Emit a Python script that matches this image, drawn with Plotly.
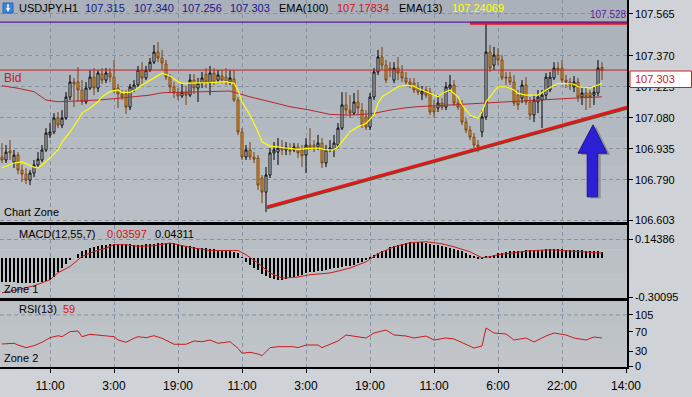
import plotly.graph_objects as go

# ---------------- data ----------------
bar_idx = list(range(151))
opens = [106.897,106.883,106.925,106.873,106.906,106.836,106.817,106.789,106.822,106.860,
 106.883,106.930,107.000,107.014,107.079,107.046,107.079,107.177,107.247,107.247,
 107.210,107.154,107.219,107.270,107.219,107.284,107.256,107.289,107.270,107.219,
 107.191,107.191,107.130,107.210,107.233,107.303,107.266,107.303,107.340,107.387,
 107.359,107.331,107.270,107.224,107.196,107.182,107.200,107.186,107.256,107.219,
 107.242,107.284,107.242,107.289,107.256,107.275,107.270,107.247,107.261,107.163,
 107.014,106.897,106.930,106.897,106.892,106.799,106.733,106.813,106.916,106.920,
 106.944,106.930,106.930,106.930,106.944,106.930,106.906,106.953,106.953,106.944,
 106.962,106.869,106.930,106.930,106.953,107.032,107.140,107.116,107.102,107.154,
 107.116,107.084,107.037,107.177,107.294,107.364,107.326,107.312,107.256,107.312,
 107.294,107.266,107.247,107.242,107.224,107.191,107.210,107.200,107.130,107.126,
 107.149,107.130,107.219,107.233,107.149,107.140,107.060,107.023,106.990,106.953,
 107.014,107.084,107.387,107.326,107.373,107.350,107.270,107.270,107.247,107.186,
 107.172,107.233,107.154,107.093,107.154,107.163,107.186,107.210,107.266,107.312,
 107.312,107.256,107.247,107.224,107.247,107.177,107.196,107.196,107.186,107.196,
 107.315]
highs = [106.962,106.953,106.976,106.930,106.920,106.860,106.846,106.836,106.883,106.920,
 106.953,107.032,107.056,107.102,107.107,107.116,107.200,107.280,107.266,107.317,
 107.256,107.247,107.303,107.312,107.303,107.312,107.312,107.312,107.350,107.238,
 107.210,107.210,107.238,107.256,107.322,107.340,107.322,107.359,107.420,107.434,
 107.397,107.350,107.284,107.247,107.219,107.238,107.228,107.284,107.284,107.266,
 107.294,107.312,107.322,107.312,107.303,107.303,107.312,107.303,107.303,107.177,
 107.032,106.953,106.967,106.920,106.906,106.813,106.850,106.939,106.967,106.986,
 106.976,106.967,106.962,106.962,106.962,106.953,106.986,107.032,106.976,107.000,
 106.986,106.953,106.976,107.000,107.056,107.200,107.200,107.186,107.196,107.210,
 107.149,107.116,107.196,107.312,107.397,107.411,107.350,107.340,107.340,107.364,
 107.326,107.294,107.266,107.266,107.247,107.228,107.228,107.219,107.163,107.186,
 107.172,107.247,107.280,107.256,107.172,107.163,107.079,107.042,107.009,106.976,
 107.116,107.523,107.420,107.411,107.406,107.373,107.294,107.294,107.280,107.210,
 107.256,107.270,107.177,107.186,107.210,107.210,107.289,107.294,107.340,107.340,
 107.350,107.280,107.266,107.275,107.266,107.219,107.219,107.210,107.228,107.350,
 107.340]
lows = [106.869,106.869,106.883,106.846,106.817,106.780,106.771,106.766,106.803,106.846,
 106.873,106.920,106.986,107.004,107.032,107.032,107.070,107.163,107.130,107.154,
 107.140,107.144,107.210,107.186,107.200,107.238,107.242,107.247,107.196,107.126,
 107.163,107.098,107.116,107.200,107.224,107.238,107.256,107.294,107.331,107.340,
 107.303,107.256,107.200,107.172,107.163,107.172,107.140,107.177,107.191,107.154,
 107.219,107.219,107.186,107.233,107.242,107.242,107.233,107.233,107.154,107.000,
 106.883,106.883,106.883,106.869,106.743,106.682,106.640,106.799,106.883,106.860,
 106.906,106.906,106.906,106.920,106.892,106.850,106.822,106.930,106.920,106.930,
 106.846,106.850,106.920,106.897,106.939,107.023,107.093,107.079,107.093,107.093,
 107.032,107.023,107.023,107.163,107.280,107.303,107.242,107.270,107.242,107.256,
 107.247,107.228,107.219,107.196,107.186,107.163,107.172,107.093,107.079,107.107,
 107.116,107.116,107.200,107.135,107.116,107.046,107.009,106.976,106.939,106.920,
 106.990,107.070,107.294,107.303,107.326,107.256,107.233,107.233,107.135,107.116,
 107.149,107.140,107.070,107.060,107.102,107.032,107.163,107.200,107.256,107.280,
 107.238,107.219,107.210,107.200,107.154,107.140,107.116,107.126,107.140,107.182,
 107.256]
closes = [106.883,106.920,106.916,106.906,106.836,106.817,106.789,106.822,106.860,106.887,
 106.930,107.009,107.014,107.079,107.046,107.079,107.177,107.247,107.238,107.210,
 107.154,107.219,107.270,107.219,107.289,107.256,107.289,107.270,107.210,107.191,
 107.177,107.130,107.224,107.233,107.303,107.266,107.303,107.340,107.387,107.359,
 107.336,107.270,107.224,107.196,107.182,107.200,107.186,107.256,107.219,107.242,
 107.266,107.247,107.289,107.247,107.280,107.256,107.247,107.266,107.163,107.014,
 106.897,106.930,106.897,106.887,106.766,106.733,106.813,106.916,106.930,106.939,
 106.930,106.944,106.925,106.944,106.916,106.902,106.953,106.939,106.939,106.962,
 106.869,106.930,106.939,106.962,107.032,107.140,107.116,107.102,107.154,107.126,
 107.046,107.037,107.177,107.294,107.364,107.326,107.256,107.303,107.312,107.289,
 107.266,107.247,107.233,107.210,107.200,107.205,107.186,107.107,107.107,107.149,
 107.130,107.224,107.233,107.149,107.130,107.060,107.023,106.990,106.953,106.944,
 107.084,107.387,107.312,107.373,107.350,107.266,107.266,107.247,107.149,107.140,
 107.233,107.154,107.093,107.163,107.177,107.186,107.270,107.270,107.312,107.303,
 107.256,107.247,107.233,107.247,107.177,107.196,107.177,107.177,107.200,107.312,
 107.303]

ema13_idx = [0,3,5,8,9,10,12,14,15,17,19,20,22,24,25,27,29,30,32,34,35,37,39,40,42,44,45,47,50,
 52,54,56,58,59,60,62,64,65,67,69,72,74,77,79,81,83,84,86,87,89,91,93,94,95,97,99,101,103,
 104,107,109,110,112,114,115,117,119,120,121,123,124,126,128,129,131,134,136,139,141,143,
 144,147,149,150]
ema13 = [106.847,106.869,106.874,106.850,106.846,106.860,106.893,106.930,106.967,107.014,107.070,
 107.102,107.126,107.155,107.178,107.202,107.210,107.199,107.199,107.218,107.233,107.257,107.277,
 107.288,107.275,107.249,107.241,107.242,107.242,107.244,107.247,107.249,107.241,107.210,107.155,
 107.093,107.015,106.968,106.948,106.944,106.937,106.933,106.937,106.939,106.930,106.930,106.945,
 106.992,107.015,107.038,107.054,107.093,107.148,107.178,107.202,107.225,107.233,107.228,107.218,
 107.194,107.178,107.194,107.210,107.178,107.140,107.093,107.078,107.108,107.155,107.202,107.225,
 107.225,107.210,107.194,107.186,107.186,107.210,107.241,107.241,107.238,107.225,107.220,107.233,
 107.241]

ema100_idx = [0,4,8,11,14,20,24,29,33,37,40,44,50,57,59,62,67,72,77,82,86,89,93,97,101,104,
 112,119,127,134,142,150]
ema100 = [107.230,107.218,107.202,107.163,107.155,107.158,107.163,107.171,107.178,107.186,107.197,
 107.199,107.199,107.205,107.194,107.178,107.155,107.132,107.116,107.096,107.093,107.094,107.101,
 107.116,107.127,107.132,107.140,107.148,107.155,107.163,107.171,107.178]

macd_hist = [-0.184,-0.184,-0.188,-0.188,-0.190,-0.192,-0.192,-0.192,-0.190,-0.188,
 -0.186,-0.180,-0.169,-0.150,-0.112,-0.080,-0.050,-0.020,0.000,0.030,
 0.050,0.062,0.075,0.085,0.090,0.097,0.100,0.104,0.107,0.107,
 0.107,0.105,0.102,0.100,0.100,0.100,0.102,0.104,0.107,0.112,
 0.117,0.117,0.115,0.112,0.107,0.100,0.092,0.087,0.082,0.078,
 0.076,0.072,0.069,0.066,0.063,0.061,0.059,0.056,0.048,0.035,
 0.005,-0.030,-0.054,-0.075,-0.095,-0.125,-0.140,-0.153,-0.162,-0.169,
 -0.167,-0.163,-0.157,-0.150,-0.142,-0.132,-0.120,-0.112,-0.107,-0.104,
 -0.100,-0.094,-0.088,-0.082,-0.077,-0.072,-0.067,-0.060,-0.052,-0.042,
 -0.034,-0.020,-0.005,0.020,0.040,0.050,0.060,0.080,0.090,0.100,
 0.107,0.115,0.123,0.124,0.123,0.120,0.112,0.107,0.100,0.095,
 0.090,0.085,0.077,0.070,0.062,0.050,0.035,0.023,0.010,-0.005,
 -0.010,0.010,0.008,0.020,0.035,0.040,0.048,0.054,0.054,0.054,
 0.055,0.058,0.058,0.060,0.060,0.062,0.065,0.069,0.069,0.069,
 0.066,0.063,0.061,0.060,0.058,0.056,0.054,0.054,0.052,0.050,
 0.043]
signal_idx = [0,4,8,12,14,17,20,23,26,28,31,34,38,42,44,48,52,59,61,64,67,70,74,77,82,87,
 91,94,98,102,106,110,113,117,120,122,124,128,132,137,142,147,150]
signal = [-0.268,-0.245,-0.215,-0.169,-0.115,-0.067,0.010,0.048,0.074,0.100,0.100,0.087,0.092,
 0.113,0.100,0.074,0.056,0.056,0.023,-0.041,-0.117,-0.156,-0.148,-0.130,-0.117,-0.079,
 -0.031,0.031,0.084,0.115,0.123,0.107,0.084,0.046,0.000,0.008,0.023,0.038,0.054,0.061,
 0.054,0.042,0.036]

rsi_idx = [0,3,4,6,8,10,12,14,15,17,19,20,22,24,25,28,29,31,33,34,36,38,40,43,46,48,50,52,
 54,57,59,60,62,64,65,67,69,73,74,76,79,80,82,84,86,88,91,93,96,98,101,103,106,108,111,
 113,116,118,120,121,123,126,128,131,133,136,138,141,143,146,148,150]
rsi = [45.3,46.7,43.2,37.7,41.8,48.8,58.2,62.3,60.3,70.6,72.0,60.3,65.2,63.8,62.3,60.3,53.5,
 48.8,57.0,60.3,58.2,62.3,57.0,44.7,44.7,51.4,50.0,53.5,46.7,50.0,36.4,26.1,28.2,24.7,21.2,
 37.7,39.7,39.7,37.7,43.2,43.2,37.7,44.7,51.4,63.8,61.7,57.6,67.9,74.1,63.8,61.7,57.6,61.7,
 53.5,57.6,55.6,45.3,37.0,41.2,78.2,67.9,65.8,53.5,57.6,49.4,61.7,67.9,63.8,57.6,53.5,59.7,
 57.6]

tick_pos = [12, 28, 44, 60, 76, 92, 108, 124, 140, 156]
tick_labels = ["11:00", "3:00", "19:00", "11:00", "3:00", "19:00", "11:00", "6:00", "22:00", "14:00"]
price_ticks = [106.603, 106.790, 106.935, 107.080, 107.225, 107.370, 107.565]
macd_ticks = [-0.30095, 0.14386]
rsi_ticks = [0, 30, 70, 105]

bid_price = 107.303
level_price = 107.527
resist_x = [117, 156.25]
resist_price = 107.522
trend_x = [66.25, 156.25]
trend_y = [106.664, 107.129]
arrow_x = [147.75, 151.25, 148.9, 148.9, 146.3, 146.3, 144.0]
arrow_y = [107.047, 106.915, 106.915, 106.711, 106.711, 106.915, 106.915]

# ---------------- figure ----------------
W, H = 692, 397
def fx(p): return p / W
def fy(p): return 1 - p / H

FONT = "Liberation Sans, Arial, sans-serif"
GRID = "#8793a0"
XR = [-0.5, 156.25]
XD = [0, 627 / W]

fig = go.Figure()

fig.add_trace(go.Scatter(x=ema100_idx, y=ema100, mode="lines",
                         line=dict(color="#b8262a", width=1), xaxis="x", yaxis="y", hoverinfo="skip"))
fig.add_trace(go.Candlestick(x=bar_idx, open=opens, high=highs, low=lows, close=closes,
                             increasing=dict(line=dict(color="#000000", width=1), fillcolor="#ffffff"),
                             decreasing=dict(line=dict(color="#7a4010", width=1), fillcolor="#f0a326"),
                             whiskerwidth=0, xaxis="x", yaxis="y"))
fig.add_trace(go.Scatter(x=ema13_idx, y=ema13, mode="lines",
                         line=dict(color="#ffff00", width=1.2), xaxis="x", yaxis="y", hoverinfo="skip"))

fig.add_trace(go.Bar(x=bar_idx, y=macd_hist, width=0.22, marker=dict(color="#000000", line=dict(width=0)),
                     xaxis="x2", yaxis="y2"))
fig.add_trace(go.Scatter(x=signal_idx, y=signal, mode="lines",
                         line=dict(color="#cc1a1a", width=1), xaxis="x2", yaxis="y2"))
fig.add_trace(go.Scatter(x=rsi_idx, y=rsi, mode="lines",
                         line=dict(color="#cc1a1a", width=1), xaxis="x3", yaxis="y3"))

axis_common = dict(showline=True, linecolor="#000000", linewidth=1.5, zeroline=False, automargin=False,
                   tickfont=dict(family=FONT, size=11, color="#000000"), fixedrange=True)
xgrid = dict(showgrid=True, gridcolor=GRID, griddash="4px,3px", gridwidth=1,
             tickvals=tick_pos, ticktext=tick_labels, range=XR, domain=XD)

fig.update_layout(
    width=W, height=H, margin=dict(l=0, r=0, t=0, b=0, autoexpand=False),
    paper_bgcolor="#cfd2d6", plot_bgcolor="rgba(0,0,0,0)",
    showlegend=False, bargap=0,
    xaxis=dict(**axis_common, **xgrid, anchor="y", showticklabels=False, ticks="", mirror=False,
               rangeslider=dict(visible=False)),
    yaxis=dict(**axis_common, domain=[1 - 221.5 / H, 1], range=[106.596, 107.630], side="right",
               tickvals=price_ticks, ticktext=[f"{v:.3f}" for v in price_ticks],
               ticks="outside", ticklen=4, tickcolor="#000000", mirror=True,
               showgrid=True, gridcolor=GRID, griddash="4px,3px", anchor="x"),
    xaxis2=dict(**axis_common, **xgrid, anchor="y2", matches="x", showticklabels=False, ticks="", mirror=True),
    yaxis2=dict(**axis_common, domain=[1 - 298 / H, 1 - 225 / H], range=[-0.3086, 0.2512], side="right",
                tickvals=macd_ticks, ticktext=["-0.30095", "0.14386"],
                ticks="outside", ticklen=4, tickcolor="#000000", mirror=True,
                showgrid=True, gridcolor=GRID, griddash="4px,3px", anchor="x2"),
    xaxis3=dict(**axis_common, **xgrid, anchor="y3", matches="x", showticklabels=True,
                ticks="outside", ticklen=4, tickcolor="#000000", mirror=True, ticklabelstandoff=3),
    yaxis3=dict(**axis_common, domain=[1 - 367 / H, 1 - 301 / H], range=[-2.06, 133.7], side="right",
                tickvals=rsi_ticks, ticktext=[str(v) for v in rsi_ticks],
                ticks="outside", ticklen=4, tickcolor="#000000", mirror=True,
                showgrid=False, anchor="x3"),
)
fig.update_xaxes(tickfont=dict(family="Liberation Sans Narrow, Liberation Sans, Arial", size=12), selector=dict(anchor="y3"))

shapes = []
def band(p0, p1, c0, c1, n=8):
    for k in range(n):
        t = k / (n - 1)
        r = int(c0[0] + (c1[0] - c0[0]) * t); g = int(c0[1] + (c1[1] - c0[1]) * t); b = int(c0[2] + (c1[2] - c0[2]) * t)
        y0 = p0 + (p1 - p0) * k / n; y1 = p0 + (p1 - p0) * (k + 1) / n
        shapes.append(dict(type="rect", xref="paper", yref="paper", x0=0, x1=XD[1], y0=fy(y1), y1=fy(y0),
                           fillcolor=f"rgb({r},{g},{b})", line=dict(width=0), layer="below"))
band(0, 221.5, (170, 177, 186), (186, 191, 197))
band(225, 298, (184, 189, 195), (190, 195, 200), 3)
band(301, 367, (188, 193, 198), (193, 197, 202), 3)

shapes.append(dict(type="line", xref="x3", yref="y3", x0=XR[0], x1=XR[1], y0=105, y1=105,
                   line=dict(color=GRID, width=1, dash="4px,3px"), layer="below"))
shapes.append(dict(type="line", xref="x domain", yref="y", x0=0, x1=1, y0=bid_price, y1=bid_price,
                   line=dict(color="#c8201e", width=1)))
shapes.append(dict(type="line", xref="x", yref="y", x0=resist_x[0], x1=resist_x[1], y0=resist_price, y1=resist_price,
                   line=dict(color="#e8141e", width=3)))
shapes.append(dict(type="line", xref="x domain", yref="y", x0=0, x1=1, y0=level_price, y1=level_price,
                   line=dict(color="#5a1e9c", width=1.2)))
shapes.append(dict(type="line", xref="x", yref="y", x0=trend_x[0], x1=trend_x[1], y0=trend_y[0] - 0.006, y1=trend_y[1] - 0.006,
                   line=dict(color="#2f6a2a", width=2)))
shapes.append(dict(type="line", xref="x", yref="y", x0=trend_x[0], x1=trend_x[1], y0=trend_y[0], y1=trend_y[1],
                   line=dict(color="#e3161c", width=3)))
def poly(xs, ys, dx=0.0, dy=0.0):
    pts = [f"{x + dx},{y + dy}" for x, y in zip(xs, ys)]
    return "M " + " L ".join(pts) + " Z"
shapes.append(dict(type="path", xref="x", yref="y", path=poly(arrow_x, arrow_y, 0.8, -0.008),
                   fillcolor="rgba(70,70,90,0.35)", line=dict(width=0)))
shapes.append(dict(type="path", xref="x", yref="y", path=poly(arrow_x, arrow_y),
                   fillcolor="#2b20d4", line=dict(color="#1c1490", width=1)))
shapes.append(dict(type="rect", xref="paper", yref="paper", x0=fx(630), x1=fx(691.5), y0=fy(87.5), y1=fy(71),
                   fillcolor="#ffffff", line=dict(color="#c8201e", width=1)))
shapes.append(dict(type="rect", xref="paper", yref="paper", x0=fx(3), x1=fx(13), y0=fy(13), y1=fy(3),
                   fillcolor="#3f86e0", line=dict(color="#2a5fb0", width=1)))
shapes.append(dict(type="path", xref="paper", yref="paper",
                   path=f"M {fx(6)},{fy(8)} L {fx(10)},{fy(8)} L {fx(8)},{fy(12)} Z M {fx(7.3)},{fy(4)} L {fx(8.7)},{fy(4)} L {fx(8.7)},{fy(8)} L {fx(7.3)},{fy(8)} Z",
                   fillcolor="#ffffff", line=dict(width=0)))
fig.update_layout(shapes=shapes)

ann = []
def txt(x, y, s, color="#000000", size=11, anchor="left"):
    ann.append(dict(x=fx(x), y=fy(y), xref="paper", yref="paper", text=s, showarrow=False,
                    xanchor=anchor, yanchor="middle", font=dict(family=FONT, size=size, color=color)))
txt(17, 8, "USDJPY,H1")
txt(83, 8, "107.315", "#17178a")
txt(132, 8, "107.340", "#17178a")
txt(180, 8, "107.256", "#17178a")
txt(228, 8, "107.303", "#17178a")
txt(277, 8, "EMA(100)")
txt(335, 8, "107.17834", "#d41414")
txt(397, 8, "EMA(13)")
txt(450, 8, "107.24069", "#ffff00")
txt(588, 15, "107.528", "#5a1e9c", 10)
txt(2, 78, "Bid", "#c8201e", 12)
txt(2, 212, "Chart Zone")
txt(17, 234, "MACD(12,55,7)")
txt(105, 234, "0.03597", "#d41414")
txt(153, 234, "0.04311")
txt(2, 289, "Zone 1")
txt(17, 309, "RSI(13)")
txt(61, 309, "59", "#d41414")
txt(2, 358, "Zone 2")
txt(633, 79, "107.303", "#c8201e")
fig.update_layout(annotations=ann)

fig.write_html("out.html", config={"displayModeBar": False, "responsive": False},
               post_script="document.documentElement.style.overflow='hidden';"
                           "document.body.style.margin='0';document.body.style.overflow='hidden';")
